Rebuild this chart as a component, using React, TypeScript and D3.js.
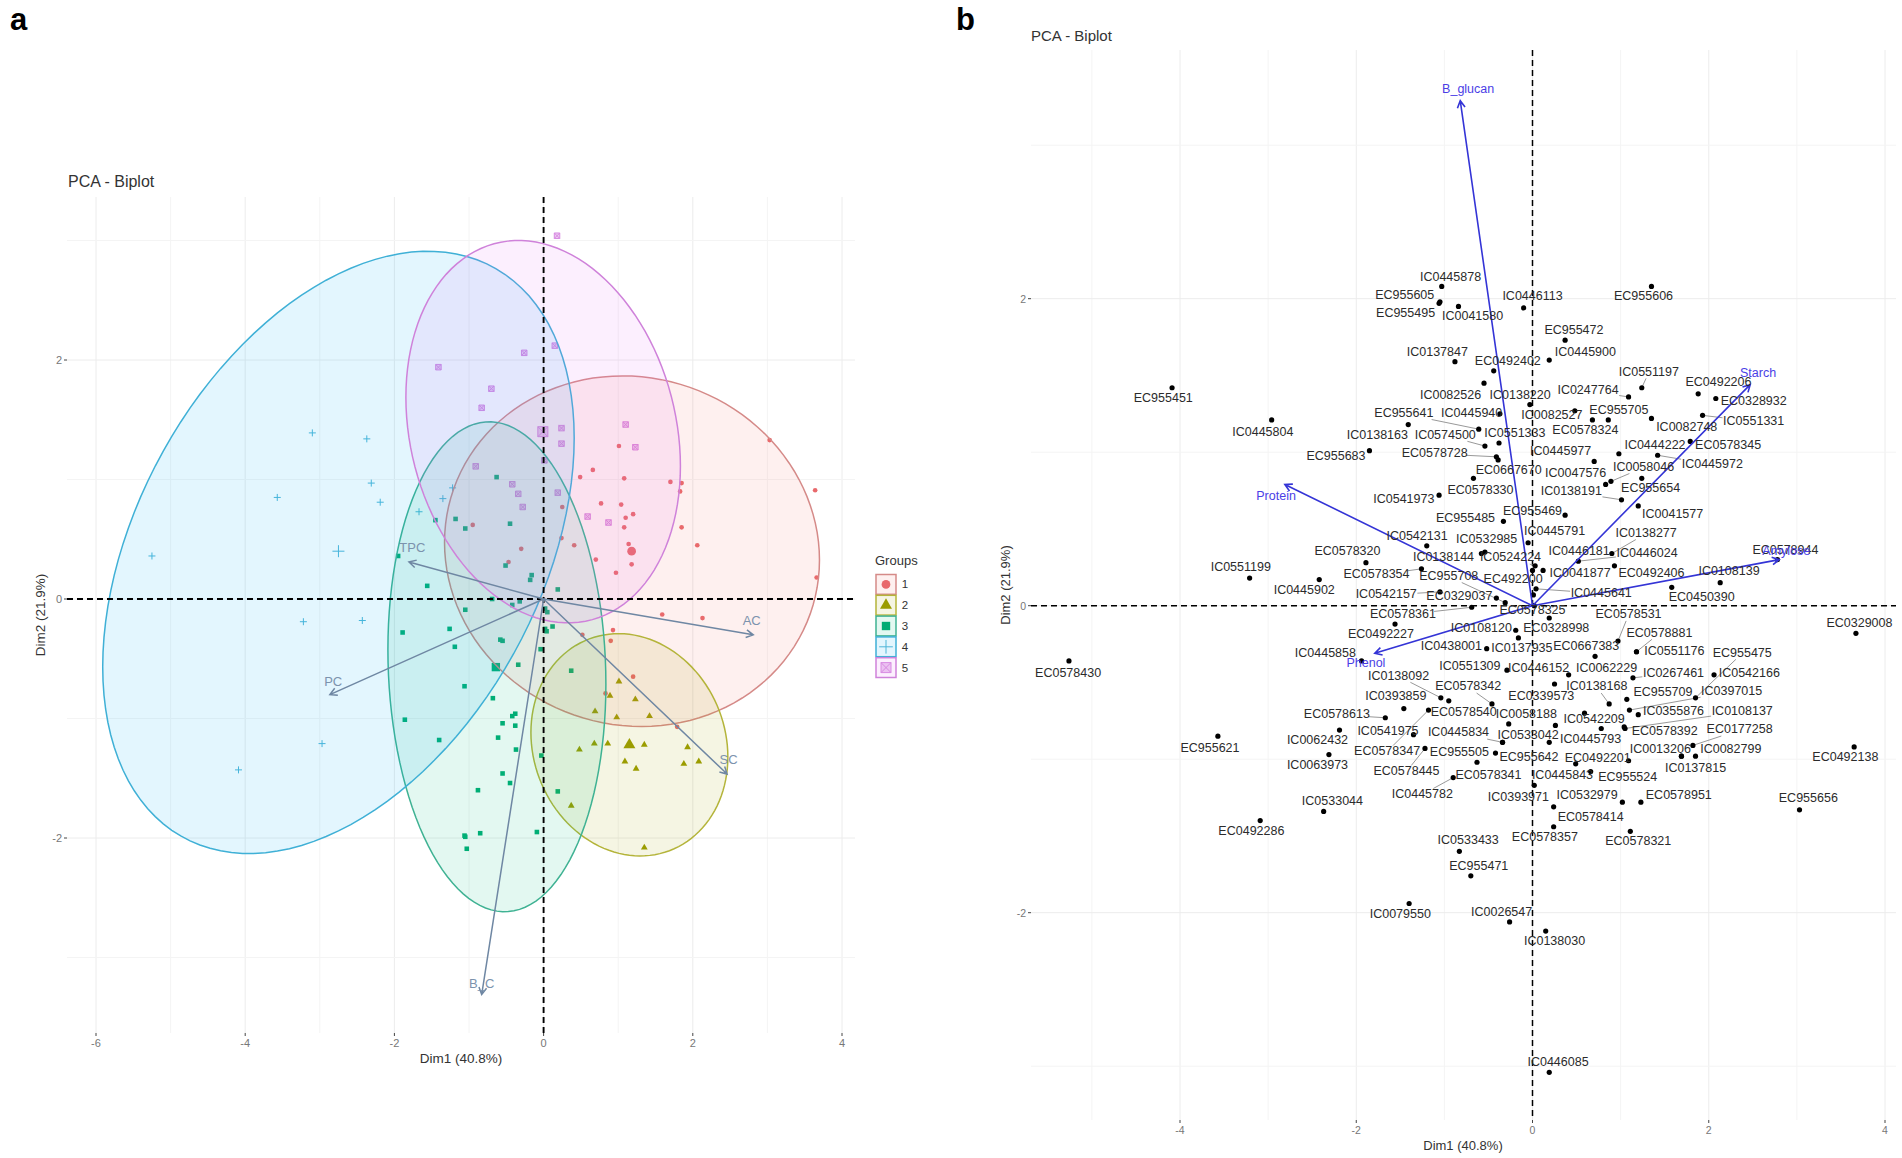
import { useEffect, useRef } from "react";
import * as d3 from "d3";

type Pt = [number, number];

// Panel a: individuals by group
const group1: Pt[] = [
  [3.03, 1.33], [1.01, 1.28], [0.66, 1.08], [0.49, 1.02], [1.08, 1.01], [1.7, 0.98], [1.85, 0.97], [1.83, 0.9],
  [3.64, 0.91], [0.77, 0.8], [1.04, 0.79], [1.2, 0.71], [0.25, 0.77], [1.1, 0.68], [1.08, 0.6], [-0.95, 0.62],
  [1.85, 0.6], [0.24, 0.51], [0.41, 0.45], [1.14, 0.46], [2.06, 0.45], [-0.3, 0.42], [-0.47, 0.31], [0.7, 0.33],
  [1.18, 0.29], [0.97, 0.22], [3.66, 0.18], [1.59, -0.13], [2.13, -0.16], [0.93, -0.26], [0.52, -0.3], [0.9, -0.35],
  [1.2, -0.65], [0.83, -0.79], [1.79, -1.07],
];
const group2: Pt[] = [
  [1.01, -0.69], [0.89, -0.81], [1.23, -0.84], [0.69, -0.94], [0.98, -0.99], [1.42, -0.98], [0.68, -1.21], [0.86, -1.21],
  [1.35, -1.22], [0.48, -1.26], [1.93, -1.24], [2.08, -1.36], [1.88, -1.38], [1.09, -1.36], [1.24, -1.42], [0.37, -1.73],
  [1.35, -2.08],
];
const group3: Pt[] = [
  [-0.63, 1.02], [-1.45, 0.66], [-1.18, 0.67], [-1.05, 0.59], [-0.45, 0.63], [-1.95, 0.36], [-0.51, 0.28], [-0.16, 0.2],
  [-0.18, 0.16], [-1.56, 0.11], [0.19, 0.08], [-0.69, 0], [-0.32, -0.02], [-0.42, -0.05], [-1.05, -0.09], [0.02, -0.08],
  [0.05, -0.11], [0.02, -0.25], [0.04, -0.27], [0.12, -0.23], [-1.26, -0.25], [-1.89, -0.28], [-0.58, -0.34], [-0.55, -0.35],
  [-1.19, -0.4], [-0.04, -0.42], [-0.34, -0.55], [-1.06, -0.73], [-0.68, -0.83], [-0.38, -0.96], [-0.42, -0.98], [-1.86, -1.01],
  [-0.55, -1.04], [-0.38, -1.06], [-0.61, -1.16], [-1.4, -1.18], [-0.37, -1.26], [-0.03, -1.31], [-0.55, -1.46], [-0.45, -1.54],
  [-0.88, -1.6], [0.19, -1.61], [-0.09, -1.95], [-0.85, -1.96], [-1.06, -1.98], [-1.05, -1.99], [-1.03, -2.09], [0.37, -0.6],
];
const group4: Pt[] = [
  [-3.1, 1.39], [-2.37, 1.34], [-2.31, 0.97], [-3.57, 0.85], [-2.19, 0.81], [-1.22, 0.93], [-1.35, 0.84], [-1.67, 0.73],
  [-5.25, 0.36], [-3.22, -0.19], [-2.43, -0.18], [-2.97, -1.21], [-4.09, -1.43],
];
const group5: Pt[] = [
  [0.18, 3.04], [0.15, 2.12], [-0.26, 2.06], [-1.41, 1.94], [-0.7, 1.76], [-0.83, 1.6], [0.24, 1.43], [0.24, 1.3],
  [1.1, 1.46], [1.23, 1.27], [0.01, 1.16], [-0.91, 1.11], [-0.42, 0.96], [-0.34, 0.88], [-0.28, 0.77], [0.19, 0.89],
  [0.59, 0.69], [0.87, 0.64],
];
const groupPoints = [group1, group2, group3, group4, group5];
const groupNames = ["1", "2", "3", "4", "5"];
const centroids: Pt[] = [[1.18, 0.4], [1.15, -1.22], [-0.64, -0.57], [-2.75, 0.4], [-0.01, 1.4]];
// ellipse: cx, cy, half width, half height, correlation
const ellipseParams: [number, number, number, number, number][] = [
  [1.185, 0.4, 2.513, 1.467, -0.05],
  [1.15, -1.22, 1.32, 0.93, -0.11],
  [-0.626, -0.567, 1.461, 2.05, -0.07],
  [-2.75, 0.39, 3.16, 2.52, 0.38],
  [-0.006, 1.4, 1.84, 1.6, -0.18],
];
const varsA: [string, number, number, number, number][] = [
  ["TPC", -1.805, 0.31, -1.76, 0.42],
  ["AC", 2.81, -0.3, 2.79, -0.19],
  ["SC", 2.46, -1.465, 2.48, -1.35],
  ["PC", -2.865, -0.8, -2.82, -0.7],
  ["B_C", -0.83, -3.31, -0.83, -3.23],
];

// Panel b: name, x, y, label x, label y
const samples: [string, number, number, number, number][] = [
  ["IC0445878", -1.03, 2.08, -0.93, 2.14], ["EC955605", -1.05, 1.98, -1.45, 2.02], ["EC955495", -1.06, 1.97, -1.44, 1.9],
  ["IC0041580", -0.84, 1.95, -0.68, 1.88], ["IC0137847", -0.88, 1.59, -1.08, 1.65], ["EC0492402", -0.44, 1.53, -0.28, 1.59],
  ["IC0082526", -0.55, 1.45, -0.93, 1.37], ["IC0138220", -0.03, 1.31, -0.14, 1.37], ["EC955641", -0.61, 1.15, -1.46, 1.25],
  ["IC0445940", -0.37, 1.25, -0.69, 1.25], ["IC0138163", -1.41, 1.18, -1.76, 1.11], ["IC0574500", -0.54, 1.04, -0.99, 1.11],
  ["IC0551333", -0.38, 1.06, -0.2, 1.12], ["EC955683", -1.85, 1.01, -2.23, 0.97], ["EC0578728", -0.41, 0.97, -1.11, 0.99],
  ["EC0667670", -0.39, 0.95, -0.27, 0.88], ["EC0578330", -0.67, 0.83, -0.59, 0.75], ["IC0541973", -1.06, 0.72, -1.46, 0.69],
  ["EC955485", -0.33, 0.55, -0.76, 0.57], ["EC955469", 0.37, 0.59, 0.0, 0.61], ["IC0542131", -1.2, 0.39, -1.31, 0.45],
  ["IC0532985", -0.54, 0.35, -0.52, 0.43], ["IC0138144", -0.58, 0.34, -1.01, 0.31], ["IC0524224", 0.03, 0.26, -0.25, 0.31],
  ["EC0578320", -1.89, 0.28, -2.1, 0.35], ["IC0551199", -3.21, 0.18, -3.31, 0.25], ["IC0445902", -2.42, 0.17, -2.59, 0.1],
  ["EC0578354", -1.26, 0.24, -1.77, 0.2], ["EC955708", -0.31, 0.02, -0.95, 0.19], ["EC492200", 0.01, 0.07, -0.22, 0.17],
  ["IC0542157", -1.05, 0.09, -1.66, 0.07], ["EC0329037", -0.41, 0.05, -0.83, 0.06], ["EC0578325", 0.02, 0.0, 0.0, -0.03],
  ["IC0445641", 0.04, 0.11, 0.78, 0.08], ["IC0445791", -0.05, 0.41, 0.25, 0.48], ["IC0446181", 0.12, 0.23, 0.53, 0.35],
  ["IC0138277", 0.9, 0.34, 1.29, 0.47], ["IC0446024", 0.52, 0.29, 1.3, 0.34], ["IC0041877", 0.0, 0.23, 0.54, 0.21],
  ["EC0492406", 0.93, 0.26, 1.35, 0.21], ["IC0108139", 2.13, 0.15, 2.23, 0.22], ["EC0450390", 1.58, 0.12, 1.92, 0.05],
  ["EC0578944", 2.78, 0.3, 2.87, 0.36], ["IC0444222", 0.98, 0.99, 1.39, 1.04], ["IC0445972", 1.42, 0.98, 2.04, 0.92],
  ["EC0578345", 1.79, 1.07, 2.22, 1.04], ["IC0551331", 1.93, 1.24, 2.51, 1.2], ["EC0328932", 2.08, 1.35, 2.51, 1.33],
  ["EC0492206", 1.88, 1.38, 2.11, 1.45], ["IC0551197", 1.24, 1.42, 1.32, 1.52], ["IC0247764", 1.09, 1.36, 0.63, 1.4],
  ["EC955705", 0.86, 1.21, 0.98, 1.27], ["IC0082748", 1.35, 1.22, 1.75, 1.16], ["EC0578324", 0.68, 1.21, 0.6, 1.14],
  ["IC0082527", 0.48, 1.27, 0.22, 1.24], ["IC0445977", 0.7, 0.94, 0.32, 1.0], ["IC0047576", 0.83, 0.79, 0.49, 0.86],
  ["IC0058046", 0.89, 0.81, 1.26, 0.9], ["IC0138191", 1.01, 0.69, 0.44, 0.74], ["EC955654", 1.24, 0.83, 1.34, 0.76],
  ["IC0041577", 1.2, 0.65, 1.59, 0.59], ["EC955472", 0.37, 1.73, 0.47, 1.79], ["IC0445900", 0.19, 1.6, 0.6, 1.65],
  ["IC0446113", -0.1, 1.94, 0.0, 2.01], ["EC955606", 1.35, 2.08, 1.26, 2.01], ["EC955451", -4.09, 1.42, -4.19, 1.35],
  ["IC0445804", -2.96, 1.21, -3.06, 1.13], ["EC0578361", -0.69, -0.01, -1.47, -0.06], ["EC0492227", -1.56, -0.12, -1.72, -0.19],
  ["IC0445858", -1.94, -0.36, -2.35, -0.31], ["IC0108120", -0.19, -0.16, -0.58, -0.15], ["EC0328998", 0.19, -0.08, 0.27, -0.15],
  ["IC0137935", -0.16, -0.21, -0.12, -0.28], ["IC0438001", -0.52, -0.28, -0.92, -0.27], ["IC0551309", -0.29, -0.42, -0.71, -0.4],
  ["IC0446152", 0.25, -0.51, 0.07, -0.41], ["EC0667383", 0.71, -0.33, 0.61, -0.27], ["EC0578531", 0.97, -0.23, 1.09, -0.06],
  ["EC0578881", 1.18, -0.3, 1.44, -0.18], ["IC0551176", 1.18, -0.3, 1.61, -0.3], ["EC955475", 1.85, -0.6, 2.38, -0.31],
  ["IC0542166", 2.06, -0.45, 2.46, -0.44], ["IC0267461", 1.14, -0.47, 1.6, -0.44], ["IC0062229", 0.41, -0.45, 0.84, -0.41],
  ["IC0138168", 0.87, -0.64, 0.73, -0.53], ["EC955709", 1.07, -0.61, 1.48, -0.57], ["IC0397015", 1.1, -0.68, 2.26, -0.56],
  ["IC0355876", 1.2, -0.71, 1.6, -0.69], ["IC0108137", 1.05, -0.8, 2.38, -0.69], ["EC0578392", 1.04, -0.79, 1.5, -0.82],
  ["EC0177258", 1.82, -0.91, 2.35, -0.81], ["IC0013206", 1.69, -0.98, 1.45, -0.94], ["IC0082799", 1.85, -0.98, 2.25, -0.94],
  ["IC0137815", 1.69, -0.98, 1.85, -1.06], ["EC0492138", 3.65, -0.92, 3.55, -0.99], ["EC0329008", 3.67, -0.18, 3.71, -0.12],
  ["EC955656", 3.03, -1.33, 3.13, -1.26], ["EC0578951", 1.23, -1.28, 1.66, -1.24], ["IC0532979", 1.02, -1.28, 0.62, -1.24],
  ["EC0578414", 0.24, -1.31, 0.66, -1.38], ["EC0578357", 0.24, -1.44, 0.14, -1.51], ["EC0578321", 1.11, -1.47, 1.2, -1.54],
  ["IC0445843", 0.66, -1.08, 0.34, -1.11], ["EC955524", 1.09, -1.01, 1.08, -1.12], ["EC0492201", 0.49, -1.03, 0.74, -1.0],
  ["EC955642", 0.19, -0.89, -0.04, -0.99], ["EC955505", -0.42, -0.96, -0.83, -0.96], ["IC0533042", -0.34, -0.89, -0.05, -0.85],
  ["EC0578341", -0.63, -1.02, -0.5, -1.11], ["IC0393971", 0.02, -1.17, -0.16, -1.25], ["IC0445782", -0.9, -1.12, -1.25, -1.23],
  ["IC0445793", 0.78, -0.8, 0.66, -0.87], ["IC0542209", 0.59, -0.7, 0.7, -0.74], ["EC0339573", 0.26, -0.78, 0.1, -0.59],
  ["IC0058188", -0.27, -0.77, -0.07, -0.71], ["EC0578342", -0.46, -0.64, -0.73, -0.53], ["IC0138092", -1.04, -0.6, -1.52, -0.46],
  ["IC0393859", -1.46, -0.67, -1.55, -0.59], ["EC0578613", -1.67, -0.73, -2.22, -0.71], ["EC0578540", -0.95, -0.62, -0.78, -0.7],
  ["IC0541975", -1.35, -0.84, -1.64, -0.82], ["EC0578347", -1.18, -0.68, -1.65, -0.95], ["EC0578445", -1.22, -0.93, -1.43, -1.08],
  ["IC0445834", -0.34, -0.89, -0.84, -0.83], ["IC0062432", -2.19, -0.81, -2.44, -0.88], ["IC0063973", -2.31, -0.97, -2.44, -1.04],
  ["EC955621", -3.57, -0.85, -3.66, -0.93], ["IC0533044", -2.37, -1.34, -2.27, -1.28], ["EC0492286", -3.09, -1.4, -3.19, -1.47],
  ["IC0533433", -0.83, -1.6, -0.73, -1.53], ["EC955471", -0.7, -1.76, -0.61, -1.7], ["IC0079550", -1.4, -1.94, -1.5, -2.01],
  ["IC0026547", -0.26, -2.06, -0.35, -2.0], ["IC0138030", 0.15, -2.12, 0.25, -2.19], ["IC0446085", 0.19, -3.04, 0.29, -2.98],
  ["EC0578430", -5.26, -0.36, -5.27, -0.44],
];
const leaderNames = [
  "EC955641", "IC0574500", "EC0578728", "EC0578354", "IC0542157", "EC0578361", "IC0445641", "IC0138277", "IC0446024",
  "IC0524224", "EC955708", "IC0445972", "IC0551331", "IC0551197", "IC0247764", "IC0058046", "IC0138191", "EC0578531",
  "EC0578881", "EC955475", "IC0267461", "IC0138168", "IC0397015", "IC0108137", "EC0177258", "EC0578342", "IC0138092",
  "EC0578613", "EC0578347", "EC0578445", "IC0445834", "IC0445782",
];
const varsB: [string, number, number, number, number][] = [
  ["B_glucan", -0.82, 3.29, -0.73, 3.36],
  ["Starch", 2.47, 1.44, 2.56, 1.51],
  ["Amylose", 2.8, 0.3, 2.88, 0.35],
  ["Protein", -2.81, 0.79, -2.91, 0.71],
  ["Phenol", -1.79, -0.31, -1.89, -0.38],
];

const xTicksMajor = [-6, -4, -2, 0, 2, 4];
const yTicksMajor = [-2, 0, 2];

const FONT = "'Liberation Sans', Arial, sans-serif";
const fillColors = ["#F8766D", "#A3A500", "#00BF7D", "#00B0F6", "#E76BF3"];
const lineColors = ["#d58a88", "#b4b43a", "#3fb293", "#3fb0d6", "#cf82da"];
const markColors = ["#e8696c", "#9a9c00", "#00ac74", "#4fb6d8", "#d88ae2"];

const plusSymbol = {
  draw(ctx: d3.Path, size: number) {
    const r = Math.sqrt(size) / 2;
    ctx.moveTo(-r, 0);
    ctx.lineTo(r, 0);
    ctx.moveTo(0, -r);
    ctx.lineTo(0, r);
  },
};
const boxCrossSymbol = {
  draw(ctx: d3.Path, size: number) {
    const r = Math.sqrt(size) / 2;
    ctx.rect(-r, -r, 2 * r, 2 * r);
    ctx.moveTo(-r, -r);
    ctx.lineTo(r, r);
    ctx.moveTo(-r, r);
    ctx.lineTo(r, -r);
  },
};
const symbolTypes: any[] = [d3.symbolCircle, d3.symbolTriangle, d3.symbolSquare, plusSymbol, boxCrossSymbol];
const smallSizes = [17, 20, 21, 49, 30];
const bigSizes = [60, 62, 70, 144, 100];

function drawMark(g: any, group: number, x: number, y: number, size: number) {
  const path = g
    .append("path")
    .attr("transform", `translate(${x},${y})`)
    .attr("d", d3.symbol().type(symbolTypes[group]).size(size)());
  if (group === 3) {
    path.attr("fill", "none").attr("stroke", markColors[3]).attr("stroke-width", 1);
  } else if (group === 4) {
    path.attr("fill", markColors[4]).attr("fill-opacity", 0.45).attr("stroke", markColors[4]).attr("stroke-width", 1);
  } else {
    path.attr("fill", markColors[group]);
  }
}

function drawFrame(g: any, x: any, y: any, left: number, right: number, top: number, bottom: number, xMinor: number[], yMinor: number[]) {
  xMinor.forEach((t) => {
    g.append("line").attr("x1", x(t)).attr("x2", x(t)).attr("y1", top).attr("y2", bottom)
      .attr("stroke", xTicksMajor.includes(t) ? "#ececec" : "#f4f4f4").attr("stroke-width", 1);
  });
  yMinor.forEach((t) => {
    g.append("line").attr("y1", y(t)).attr("y2", y(t)).attr("x1", left).attr("x2", right)
      .attr("stroke", yTicksMajor.includes(t) ? "#ececec" : "#f4f4f4").attr("stroke-width", 1);
  });
}

function drawZeroLines(g: any, x: any, y: any, left: number, right: number, top: number, bottom: number, width: number) {
  g.append("line").attr("x1", left).attr("x2", right).attr("y1", y(0)).attr("y2", y(0))
    .attr("stroke", "#000").attr("stroke-width", width).attr("stroke-dasharray", "6,4");
  g.append("line").attr("x1", x(0)).attr("x2", x(0)).attr("y1", top).attr("y2", bottom)
    .attr("stroke", "#000").attr("stroke-width", width).attr("stroke-dasharray", "6,4");
}

function drawAxes(g: any, x: any, y: any, left: number, bottom: number, xVals: number[], tickSize: number) {
  xVals.forEach((t) => {
    g.append("line").attr("x1", x(t)).attr("x2", x(t)).attr("y1", bottom).attr("y2", bottom + 3).attr("stroke", "#444");
    g.append("text").attr("x", x(t)).attr("y", bottom + 14).attr("text-anchor", "middle")
      .attr("font-size", tickSize).attr("fill", "#777").text(t);
  });
  yTicksMajor.forEach((t) => {
    g.append("line").attr("x1", left - 3).attr("x2", left).attr("y1", y(t)).attr("y2", y(t)).attr("stroke", "#444");
    g.append("text").attr("x", left - 5).attr("y", y(t) + 4).attr("text-anchor", "end")
      .attr("font-size", tickSize).attr("fill", "#777").text(t);
  });
}

function drawArrow(g: any, x0: number, y0: number, x1: number, y1: number, color: string, width: number) {
  const a = Math.atan2(y1 - y0, x1 - x0);
  const len = 8;
  const p = d3.path();
  p.moveTo(x0, y0);
  p.lineTo(x1, y1);
  p.moveTo(x1 - len * Math.cos(a - 0.5), y1 - len * Math.sin(a - 0.5));
  p.lineTo(x1, y1);
  p.lineTo(x1 - len * Math.cos(a + 0.5), y1 - len * Math.sin(a + 0.5));
  g.append("path").attr("d", p.toString()).attr("fill", "none").attr("stroke", color).attr("stroke-width", width);
}

export default function App() {
  const svgRef = useRef<SVGSVGElement>(null);

  useEffect(() => {
    if (!svgRef.current) return;
    const svg = d3.select(svgRef.current);
    svg.selectAll("*").remove();
    svg.attr("font-family", FONT);

    // ---- panel a ----
    const a = svg.append("g");
    const ax = d3.scaleLinear().domain([-6, 4]).range([96, 842]);
    const ay = d3.scaleLinear().domain([-2, 2]).range([838, 360]);
    const aL = 67, aR = 855, aT = 197, aB = 1033;

    drawFrame(a, ax, ay, aL, aR, aT, aB, d3.range(-6, 5), d3.range(-3, 4));

    groupPoints.forEach((pts, i) => {
      pts.forEach((d) => drawMark(a, i, ax(d[0]), ay(d[1]), smallSizes[i]));
      drawMark(a, i, ax(centroids[i][0]), ay(centroids[i][1]), bigSizes[i]);
    });

    const ellipseLine = d3.line().curve(d3.curveLinearClosed);
    ellipseParams.forEach(([cx, cy, w, h, r], i) => {
      const pts = d3.range(0, 2 * Math.PI, Math.PI / 60).map((t) => [
        ax(cx + w * Math.cos(t)),
        ay(cy + h * (r * Math.cos(t) + Math.sqrt(1 - r * r) * Math.sin(t))),
      ]) as [number, number][];
      a.append("path").attr("d", ellipseLine(pts))
        .attr("fill", fillColors[i]).attr("fill-opacity", 0.11)
        .attr("stroke", lineColors[i]).attr("stroke-width", 1.5);
    });

    drawZeroLines(a, ax, ay, aL, aR, aT, aB, 1.9);
    drawAxes(a, ax, ay, aL, aB, xTicksMajor, 11);

    varsA.forEach(([name, vx, vy, lx, ly]) => {
      drawArrow(a, ax(0), ay(0), ax(vx), ay(vy), "#6f87a3", 1.5);
      a.append("text").attr("x", ax(lx)).attr("y", ay(ly)).attr("text-anchor", "middle")
        .attr("dominant-baseline", "middle").attr("font-size", 13).attr("fill", "#7c93ad").text(name);
    });

    a.append("text").attr("x", 68).attr("y", 187).attr("font-size", 16).attr("fill", "#333").text("PCA - Biplot");
    a.append("text").attr("x", 461).attr("y", 1063).attr("text-anchor", "middle").attr("font-size", 13.5).attr("fill", "#333").text("Dim1 (40.8%)");
    a.append("text").attr("transform", "translate(45,615) rotate(-90)").attr("text-anchor", "middle").attr("font-size", 13.5).attr("fill", "#333").text("Dim2 (21.9%)");

    // legend
    a.append("text").attr("x", 875).attr("y", 565).attr("font-size", 13).attr("fill", "#333").text("Groups");
    const keyBand = d3.scaleBand().domain(groupNames).range([574, 678]);
    groupNames.forEach((name, i) => {
      const ky = keyBand(name) as number;
      const kh = keyBand.bandwidth();
      a.append("rect").attr("x", 876).attr("y", ky + 0.5).attr("width", 20).attr("height", kh - 1)
        .attr("fill", fillColors[i]).attr("fill-opacity", 0.11).attr("stroke", lineColors[i]).attr("stroke-width", 1.5);
      drawMark(a, i, 886, ky + kh / 2, bigSizes[i] * (i === 3 ? 1.3 : 1));
      a.append("text").attr("x", 905).attr("y", ky + kh / 2 + 4).attr("text-anchor", "middle")
        .attr("font-size", 11.5).attr("fill", "#333").text(name);
    });

    // ---- panel b ----
    const b = svg.append("g");
    const bx = d3.scaleLinear().domain([-4, 4]).range([1180, 1885]);
    const by = d3.scaleLinear().domain([-2, 2]).range([912.7, 298.7]);
    const bL = 1031, bR = 1896, bT = 50, bB = 1120;

    drawFrame(b, bx, by, bL, bR, bT, bB, d3.range(-5, 5), d3.range(-3, 4));
    drawZeroLines(b, bx, by, bL, bR, bT, bB, 1.5);
    drawAxes(b, bx, by, bL, bB, [-4, -2, 0, 2, 4], 10.5);

    const charWidth = 6.7;
    samples.forEach(([name, px, py, lx, ly]) => {
      if (!leaderNames.includes(name)) return;
      const x0 = bx(px), y0 = by(py), x1 = bx(lx), y1 = by(ly);
      const hw = (name.length * charWidth) / 2 + 1, hh = 6;
      const s = Math.min(hw / Math.max(Math.abs(x0 - x1), 0.01), hh / Math.max(Math.abs(y0 - y1), 0.01), 1);
      b.append("line").attr("x1", x0).attr("y1", y0)
        .attr("x2", x1 + (x0 - x1) * s).attr("y2", y1 + (y0 - y1) * s)
        .attr("stroke", "#999").attr("stroke-width", 1);
    });
    samples.forEach(([, px, py]) => {
      b.append("circle").attr("cx", bx(px)).attr("cy", by(py)).attr("r", 2.6).attr("fill", "#000");
    });
    varsB.forEach(([, vx, vy]) => {
      drawArrow(b, bx(0), by(0), bx(vx), by(vy), "#3434d6", 1.6);
    });
    samples.forEach(([name, , , lx, ly]) => {
      b.append("text").attr("x", bx(lx)).attr("y", by(ly)).attr("text-anchor", "middle")
        .attr("dominant-baseline", "middle").attr("font-size", 12.5).attr("fill", "#2b2b2b").text(name);
    });
    varsB.forEach(([name, , , lx, ly]) => {
      b.append("text").attr("x", bx(lx)).attr("y", by(ly)).attr("text-anchor", "middle")
        .attr("dominant-baseline", "middle").attr("font-size", 12.5).attr("fill", "#4a3ee6").text(name);
    });

    b.append("text").attr("x", 1031).attr("y", 41).attr("font-size", 15).attr("fill", "#333").text("PCA - Biplot");
    b.append("text").attr("x", 1463).attr("y", 1150).attr("text-anchor", "middle").attr("font-size", 13).attr("fill", "#333").text("Dim1 (40.8%)");
    b.append("text").attr("transform", "translate(1010,585) rotate(-90)").attr("text-anchor", "middle").attr("font-size", 13).attr("fill", "#333").text("Dim2 (21.9%)");

    // panel letters
    svg.append("text").attr("x", 10).attr("y", 30).attr("font-size", 31).attr("font-weight", 700).attr("fill", "#000").text("a");
    svg.append("text").attr("x", 956).attr("y", 30).attr("font-size", 31).attr("font-weight", 700).attr("fill", "#000").text("b");
  }, []);

  return <svg ref={svgRef} width={1902} height={1158} style={{ position: "absolute", left: 0, top: 0, display: "block", background: "#fff" }} />;
}
